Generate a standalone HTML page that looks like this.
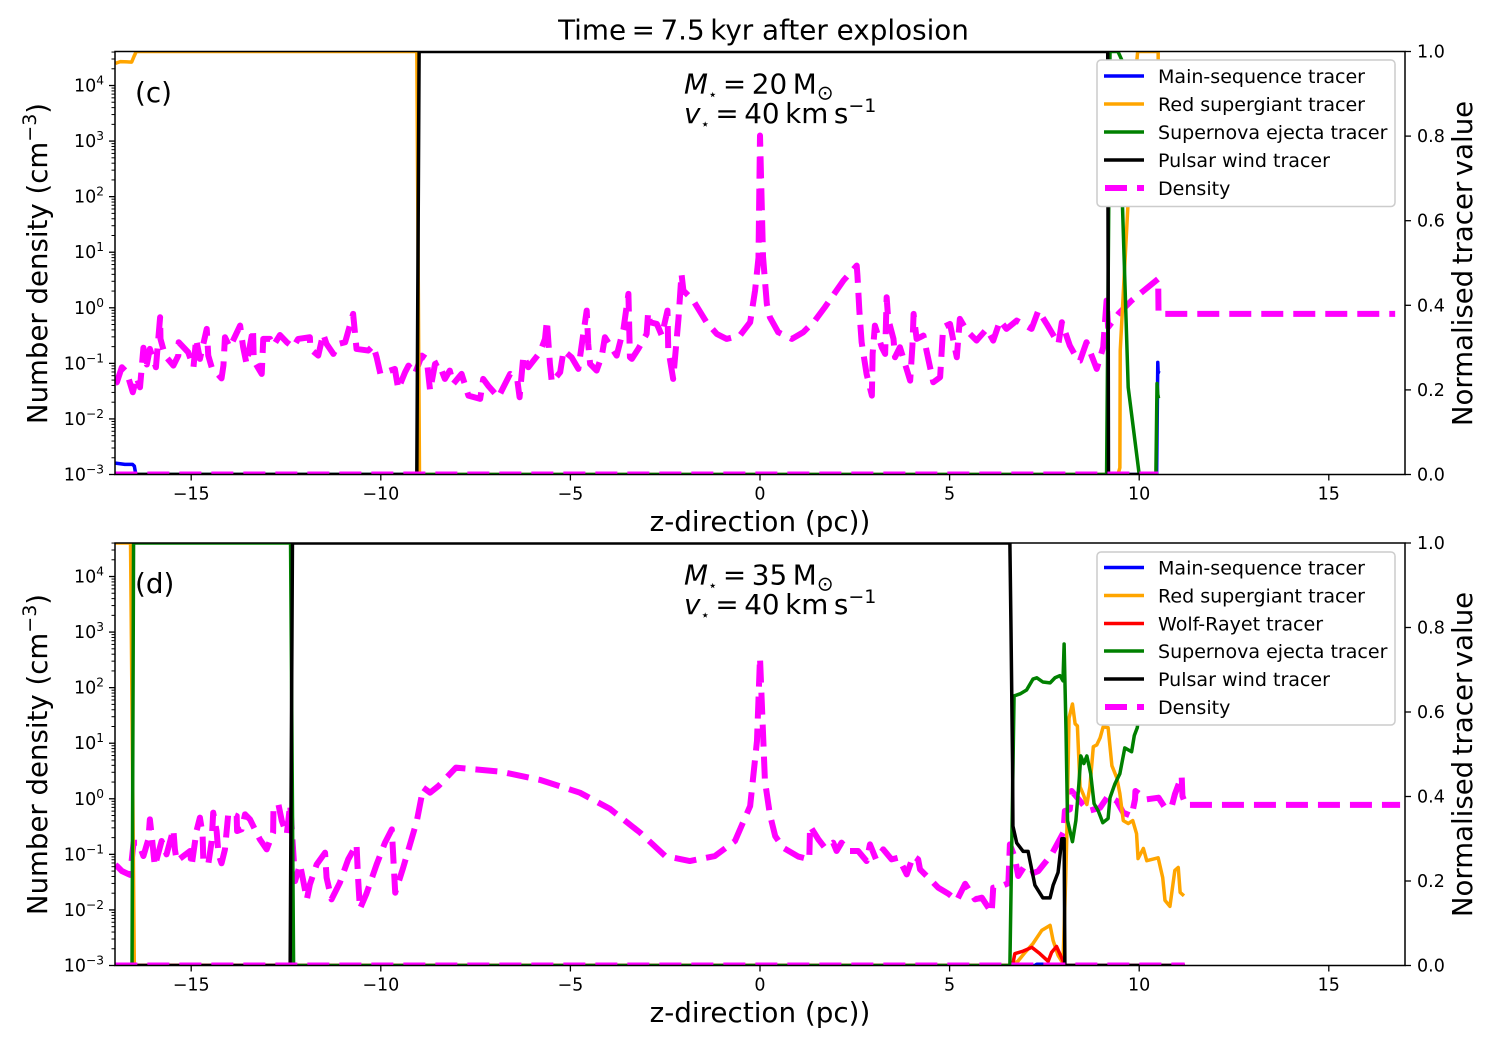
<!DOCTYPE html>
<html lang="en">
<head>
<meta charset="utf-8">
<title>Time = 7.5 kyr after explosion</title>
<style>
html,body{margin:0;padding:0;background:#fff;width:1495px;height:1046px;overflow:hidden}
svg{display:block}
text{font-family:"DejaVu Sans","Liberation Sans",sans-serif;fill:#000}
.big{font-size:27.8px}
.ylab{font-size:27.6px}
.tick{font-size:17.5px}
.leg{font-size:19.05px}
</style>
</head>
<body>
<svg id="fig" xmlns="http://www.w3.org/2000/svg" width="1495" height="1046" viewBox="0 0 1495 1046">
  <defs>
    <clipPath id="clip-c"><rect x="115" y="51.5" width="1290" height="423"/></clipPath>
    <clipPath id="clip-d"><rect x="115" y="543" width="1290" height="422.5"/></clipPath>
  </defs>
  <text class="big" x="763.5" y="39.5" text-anchor="middle">Time&#8201;=&#8201;7.5&#8201;kyr after explosion</text>

  <g id="panel-c"></g>
  <g id="panel-d"></g>

  <text class="big" x="135" y="102">(c)</text>
  <text class="big" x="684" y="93.5"><tspan font-style="italic">M</tspan><tspan font-size="15" dy="6">⋆</tspan><tspan dy="-6">&#8201;=&#8201;20&#8201;M</tspan><tspan font-size="20" dy="6">⊙</tspan></text>
  <text class="big" x="684" y="123"><tspan font-style="italic">v</tspan><tspan font-size="15" dy="6">⋆</tspan><tspan dy="-6">&#8201;=&#8201;40&#8201;km&#8201;s</tspan><tspan font-size="19" dy="-11">−1</tspan></text>
  <text class="big" x="760" y="531" text-anchor="middle">z-direction (pc))</text>
  <text class="ylab" transform="translate(47,263.5) rotate(-90)" text-anchor="middle">Number density (cm<tspan font-size="19" dy="-11">−3</tspan><tspan dy="11">)</tspan></text>
  <text class="ylab" transform="translate(1472,263.5) rotate(-90)" text-anchor="middle">Normalised&#8201;tracer&#8201;value</text>

  <text class="big" x="135" y="593">(d)</text>
  <text class="big" x="684" y="584.5"><tspan font-style="italic">M</tspan><tspan font-size="15" dy="6">⋆</tspan><tspan dy="-6">&#8201;=&#8201;35&#8201;M</tspan><tspan font-size="20" dy="6">⊙</tspan></text>
  <text class="big" x="684" y="614"><tspan font-style="italic">v</tspan><tspan font-size="15" dy="6">⋆</tspan><tspan dy="-6">&#8201;=&#8201;40&#8201;km&#8201;s</tspan><tspan font-size="19" dy="-11">−1</tspan></text>
  <text class="big" x="760" y="1022" text-anchor="middle">z-direction (pc))</text>
  <text class="ylab" transform="translate(47,754.5) rotate(-90)" text-anchor="middle">Number density (cm<tspan font-size="19" dy="-11">−3</tspan><tspan dy="11">)</tspan></text>
  <text class="ylab" transform="translate(1472,754.5) rotate(-90)" text-anchor="middle">Normalised&#8201;tracer&#8201;value</text>

  <g>
    <rect x="1097" y="60" width="298" height="146.5" rx="4" fill="#fff" stroke="#ccc" stroke-width="1.5"/>
    <g><line x1="1104" x2="1144" y1="76" y2="76" stroke="#0000ff" stroke-width="3.5"/><text class="leg" x="1158" y="83">Main-sequence tracer</text></g>
    <g><line x1="1104" x2="1144" y1="104" y2="104" stroke="#ffa500" stroke-width="3.5"/><text class="leg" x="1158" y="111">Red supergiant tracer</text></g>
    <g><line x1="1104" x2="1144" y1="132" y2="132" stroke="#008000" stroke-width="3.5"/><text class="leg" x="1158" y="139">Supernova ejecta tracer</text></g>
    <g><line x1="1104" x2="1144" y1="160" y2="160" stroke="#000" stroke-width="3.5"/><text class="leg" x="1158" y="167">Pulsar wind tracer</text></g>
    <g><line x1="1105" x2="1144" y1="188" y2="188" stroke="#ff00ff" stroke-width="6" stroke-dasharray="22 10"/><text class="leg" x="1158" y="195">Density</text></g>
  </g>

  <g>
    <rect x="1097" y="552" width="298" height="173" rx="4" fill="#fff" stroke="#ccc" stroke-width="1.5"/>
    <g><line x1="1104" x2="1144" y1="567.5" y2="567.5" stroke="#0000ff" stroke-width="3.5"/><text class="leg" x="1158" y="574.5">Main-sequence tracer</text></g>
    <g><line x1="1104" x2="1144" y1="595.5" y2="595.5" stroke="#ffa500" stroke-width="3.5"/><text class="leg" x="1158" y="602.5">Red supergiant tracer</text></g>
    <g><line x1="1104" x2="1144" y1="623.5" y2="623.5" stroke="#ff0000" stroke-width="3.5"/><text class="leg" x="1158" y="630.5">Wolf-Rayet tracer</text></g>
    <g><line x1="1104" x2="1144" y1="651" y2="651" stroke="#008000" stroke-width="3.5"/><text class="leg" x="1158" y="658">Supernova ejecta tracer</text></g>
    <g><line x1="1104" x2="1144" y1="679" y2="679" stroke="#000" stroke-width="3.5"/><text class="leg" x="1158" y="686">Pulsar wind tracer</text></g>
    <g><line x1="1105" x2="1144" y1="707" y2="707" stroke="#ff00ff" stroke-width="6" stroke-dasharray="22 10"/><text class="leg" x="1158" y="714">Density</text></g>
  </g>
</svg>
<script>
/* ---------- axis tick values ---------- */
const xTickValues = [-15, -10, -5, 0, 5, 10, 15];
const logTickExponents = [-3, -2, -1, 0, 1, 2, 3, 4];
const tracerTickValues = [0, 0.2, 0.4, 0.6, 0.8, 1.0];

/* ---------- panel (c): density, log10(n / cm^-3) vs z (pc) ---------- */
const cDensityZ = [
  -17.0,-16.96,-16.83,-16.70,-16.54,-16.44,-16.35,-16.26,-16.17,-16.09,
  -15.93,-15.82,-15.81,-15.69,-15.47,-15.34,-15.33,-15.08,-14.94,-14.87,
  -14.77,-14.59,-14.55,-14.46,-14.20,-14.15,-14.11,-13.98,-13.71,-13.63,
  -13.54,-13.37,-13.35,-13.14,-13.10,-12.92,-12.83,-12.66,-12.48,-12.31,
  -12.18,-11.87,-11.86,-11.65,-11.52,-11.43,-11.25,-11.12,-10.94,-10.73,
  -10.64,-10.33,-10.20,-10.11,-10.01,-9.63,-9.54,-9.36,-9.27,-9.10,
  -8.92,-8.79,-8.70,-8.57,-8.48,-8.31,-8.18,-8.09,-7.87,-7.69,
  -7.38,-7.30,-7.17,-6.90,-6.59,-6.40,-6.34,-6.24,-6.11,-5.80,
  -5.67,-5.62,-5.54,-5.49,-5.27,-5.18,-4.97,-4.79,-4.66,-4.57,
  -4.53,-4.48,-4.31,-4.17,-4.09,-3.78,-3.60,-3.47,-3.43,-3.38,
  -3.21,-2.99,-2.95,-2.90,-2.72,-2.59,-2.44,-2.42,-2.29,-2.15,
  -2.07,-2.02,-1.76,-1.41,-1.14,-0.88,-0.53,-0.26,-0.13,-0.04,
  0,0.08,0.18,0.26,0.48,0.84,1.14,1.45,1.71,2.20,
  2.55,2.57,2.62,2.68,2.81,2.95,2.97,3.03,3.21,3.30,
  3.34,3.38,3.52,3.56,3.69,3.96,4.02,4.05,4.13,4.31,
  4.40,4.57,4.75,4.83,5.01,5.19,5.27,5.45,5.71,5.98,
  6.15,6.33,6.50,6.77,7.16,7.34,7.56,7.87,7.96,8.17,
  8.39,8.44,8.61,8.88,9.05,9.14,9.18,9.45,9.80,10.50,
  10.51,16.75];
const cDensityLog = [
  -1.35,-1.34,-1.07,-1.16,-1.52,-1.25,-1.43,-0.72,-1.02,-0.74,
  -1.07,-0.17,-0.56,-0.86,-1.04,-0.86,-0.62,-0.80,-1.07,-0.56,
  -0.92,-0.38,-0.86,-1.07,-1.27,-1.04,-0.53,-0.71,-0.32,-0.71,
  -1.01,-0.38,-0.95,-1.19,-0.56,-0.56,-0.68,-0.49,-0.62,-0.71,
  -0.56,-0.53,-0.74,-0.86,-0.47,-0.65,-0.83,-0.65,-0.62,-0.11,
  -0.74,-0.77,-0.68,-0.89,-1.19,-1.10,-1.46,-1.16,-1.04,-1.19,
  -0.86,-0.92,-1.49,-1.01,-0.98,-1.28,-1.13,-1.37,-1.19,-1.58,
  -1.64,-1.28,-1.40,-1.61,-1.19,-1.30,-1.61,-0.86,-1.07,-0.80,
  -0.56,-0.23,-1.01,-1.34,-1.16,-0.77,-0.89,-1.10,-0.47,-0.05,
  -0.65,-1.01,-1.13,-0.86,-0.53,-0.86,-0.38,0.25,-0.89,-0.92,
  -0.74,-0.47,-0.08,-0.26,-0.29,-0.50,-0.05,-0.74,-1.28,-0.20,
  0.61,0.31,0.13,-0.26,-0.47,-0.56,-0.50,-0.26,0.31,0.90,
  3.10,0.92,0.07,-0.17,-0.44,-0.56,-0.44,-0.23,0.01,0.49,
  0.76,0.58,-0.05,-0.62,-1.19,-1.58,-0.83,-0.32,-0.71,-0.83,
  0.19,-0.20,-0.56,-0.89,-0.71,-1.31,-0.68,-0.11,-0.56,-0.50,
  -0.80,-1.34,-1.25,-0.35,-0.29,-0.89,-0.20,-0.41,-0.59,-0.38,
  -0.59,-0.23,-0.38,-0.23,-0.38,-0.05,-0.29,-0.65,-0.26,-0.68,
  -0.95,-0.95,-0.62,-1.10,-0.71,0.13,-0.35,-0.11,0.13,0.52,
  -0.11,-0.11];
const cDensityFloorZ = [-17.0, 10.5];
const cDensityFloorLog = [-3, -3];

/* ---------- panel (c): tracers, normalised value vs z ---------- */
const cBlueZ = [-17.0,-16.75,-16.55,-16.5,-16.46,10.46,10.49,10.5,10.52];
const cBlueV = [0.027,0.024,0.024,0.02,0,0,0.265,0.24,0.245];
const cOrangeZ = [-17.0,-16.87,-16.57,-16.5,-16.45,-9.05,-8.98,9.44,9.49,9.50,9.70,9.94,9.96,10.5,10.51];
const cOrangeV = [0.972,0.976,0.975,0.99,1,1,0,0,0.016,0.293,0.631,0.98,1,1,0.7];
const cGreenZ = [-17.0,9.14,9.23,9.44,9.54,9.56,9.71,10.0,10.44,10.47,10.49,10.51];
const cGreenV = [0,0,1,1,0.98,0.632,0.206,0,0,0.215,0.19,0.18];
const cBlackZ = [-17.0,-9.05,-8.99,9.17,9.19,10.5];
const cBlackV = [0,0,1,1,0,0];

/* ---------- panel (d): density ---------- */
const dDensityZ = [
  -17.0,-16.96,-16.83,-16.61,-16.52,-16.39,-16.26,-16.13,-16.09,-16.05,
  -15.96,-15.78,-15.65,-15.47,-15.43,-15.38,-15.03,-14.99,-14.86,-14.77,
  -14.70,-14.68,-14.55,-14.46,-14.42,-14.33,-14.28,-14.20,-14.11,-14.02,
  -13.80,-13.79,-13.67,-13.58,-13.45,-13.19,-13.01,-12.84,-12.83,-12.70,
  -12.61,-12.48,-12.39,-12.31,-12.26,-12.13,-11.95,-11.87,-11.69,-11.47,
  -11.43,-11.30,-11.08,-10.86,-10.64,-10.60,-10.55,-10.38,-10.11,-9.89,
  -9.71,-9.67,-9.62,-9.41,-9.05,-8.88,-8.70,-8.48,-8.02,-6.86,
  -5.80,-4.75,-3.96,-3.16,-2.50,-1.85,-1.19,-0.66,-0.26,-0.08,
  0,0.13,0.26,0.40,0.61,1.01,1.30,1.32,1.54,1.71,
  1.93,2.02,2.15,2.33,2.59,2.81,2.90,3.06,3.25,3.47,
  3.65,3.87,4.04,4.17,4.22,4.53,4.70,4.97,5.19,5.41,
  5.67,5.85,6.11,6.15,6.37,6.55,6.59,6.72,6.81,6.95,
  7.12,7.34,7.69,8.00,8.04,8.17,8.22,8.44,8.66,8.97,
  9.18,9.41,9.58,9.80,9.89,9.90,10.20,10.51,10.68,10.86,
  10.94,11.12,11.14,11.23,16.88];
const dDensityLog = [
  -1.19,-1.21,-1.30,-1.37,-0.79,-0.79,-1.03,-0.73,-0.37,-0.61,
  -1.21,-0.76,-1.00,-0.55,-0.91,-1.12,-0.94,-1.21,-0.58,-0.34,
  -0.64,-1.12,-1.18,-0.76,-0.25,-0.58,-1.00,-1.16,-0.91,-0.25,
  -0.31,-0.58,-0.55,-0.28,-0.37,-0.73,-0.91,-0.61,-0.16,-0.10,
  -0.40,-0.64,-0.10,-0.94,-1.48,-1.18,-1.81,-1.54,-1.18,-0.97,
  -1.42,-1.81,-1.51,-1.09,-0.82,-1.42,-1.98,-1.71,-1.18,-0.79,
  -0.55,-1.06,-1.69,-1.24,-0.40,0.20,0.11,0.23,0.56,0.49,
  0.34,0.11,-0.18,-0.61,-1.03,-1.12,-1.03,-0.76,-0.13,1.04,
  2.54,0.32,-0.28,-0.67,-0.88,-1.04,-1.09,-0.49,-0.73,-0.88,
  -0.79,-0.94,-0.79,-0.94,-0.94,-1.12,-0.82,-1.09,-0.91,-1.09,
  -1.06,-1.36,-1.03,-1.09,-1.27,-1.48,-1.60,-1.71,-1.83,-1.53,
  -1.81,-1.78,-2.05,-1.60,-1.57,-1.52,-0.82,-1.06,-1.39,-1.24,
  -1.36,-1.30,-1.00,-0.61,-0.22,-0.19,0.14,-0.04,-0.22,-0.16,
  0.05,-0.04,-0.25,-0.31,-0.01,0.14,-0.01,0.02,-0.16,-0.13,
  0.08,0.41,0.05,-0.11,-0.11];
const dDensityFloorZ = [-17.0, 11.2];
const dDensityFloorLog = [-3, -3];

/* ---------- panel (d): tracers ---------- */
const dBlueZ = [-17.0,7.25,7.3,7.5,7.55,11.2];
const dBlueV = [0,0,0.003,0.003,0,0];
const dOrangeZ = [
  -17.0,-16.6,-16.5,6.59,6.80,6.99,7.20,7.43,7.65,7.73,
  7.86,7.99,8.06,8.09,8.15,8.24,8.31,8.37,8.44,8.53,
  8.62,8.70,8.79,8.88,8.97,9.05,9.18,9.28,9.41,9.49,
  9.58,9.71,9.83,9.93,9.97,10.11,10.20,10.50,10.62,10.68,
  10.81,10.94,11.03,11.08,11.18];
const dOrangeV = [
  1,1,0,0,0.01,0.031,0.052,0.083,0.095,0.059,
  0.024,0.005,0.201,0.303,0.586,0.619,0.572,0.567,0.423,0.404,
  0.381,0.423,0.518,0.522,0.539,0.565,0.563,0.473,0.444,0.407,
  0.343,0.336,0.343,0.312,0.253,0.277,0.248,0.255,0.208,0.154,
  0.140,0.225,0.232,0.173,0.165];
const dRedZ = [-17.0,6.60,6.67,6.72,6.94,7.17,7.38,7.60,7.69,7.82,7.96,8.04,11.2];
const dRedV = [0,0,0.005,0.028,0.034,0.043,0.028,0.010,0.031,0.045,0.017,0,0];
const dGreenZ = [
  -17.0,-16.56,-16.52,-12.38,-12.30,6.59,6.70,6.86,7.03,7.20,
  7.30,7.46,7.65,7.78,7.91,7.99,8.02,8.07,8.11,8.24,
  8.33,8.41,8.46,8.54,8.62,8.72,8.81,8.92,9.04,9.18,
  9.23,9.36,9.49,9.62,9.80,9.87,9.95,10.02,10.28];
const dGreenV = [
  0,0,1,1,0,0,0.638,0.643,0.652,0.678,
  0.681,0.671,0.669,0.681,0.686,0.674,0.761,0.556,0.343,0.293,
  0.343,0.430,0.496,0.478,0.496,0.454,0.383,0.366,0.338,0.348,
  0.397,0.430,0.454,0.515,0.506,0.544,0.563,0.62,0.80];
const dBlackZ = [
  -17.0,-12.39,-12.33,6.59,6.62,6.66,6.67,6.77,6.94,7.07,
  7.25,7.46,7.65,7.73,7.86,7.96,8.02,8.04,11.2];
const dBlackV = [
  0,0,1,1,0.79,0.48,0.33,0.29,0.27,0.27,
  0.19,0.16,0.16,0.19,0.22,0.30,0.30,0,0];

/* ---------- axis functions ---------- */
const NS = 'http://www.w3.org/2000/svg';
const PX_PER_PC = 37.92;
const X_ZERO = 760;
const AXIS_LEFT = 115;
const AXIS_RIGHT = 1405;
const PX_PER_DECADE = 55.57;
const xScale = z => X_ZERO + z * PX_PER_PC;
const logScale = (logN, bottom) => bottom - (logN + 3) * PX_PER_DECADE;
const tracerScale = (v, top, bottom) => bottom - v * (bottom - top);

function add(tag, parent) {
  const node = document.createElementNS(NS, tag);
  parent.appendChild(node);
  return node;
}
function pathFrom(xs, ys, mapX, mapY) {
  let d = '';
  const n = Math.min(xs.length, ys.length);
  for (let i = 0; i < n; i++) {
    d += (i ? 'L' : 'M') + mapX(xs[i]).toFixed(2) + ' ' + mapY(ys[i]).toFixed(2);
  }
  return d;
}
function styleSeries(p, color, width, dashed, clipId) {
  p.setAttribute('fill', 'none');
  p.setAttribute('stroke', color);
  p.setAttribute('stroke-width', width);
  p.setAttribute('stroke-linejoin', 'round');
  p.setAttribute('clip-path', 'url(#' + clipId + ')');
  if (dashed) p.setAttribute('stroke-dasharray', '22 10');
}
function tickLine(g, x1, y1, x2, y2, w) {
  const t = add('line', g);
  t.setAttribute('x1', x1);
  t.setAttribute('y1', y1);
  t.setAttribute('x2', x2);
  t.setAttribute('y2', y2);
  t.setAttribute('stroke', '#000');
  t.setAttribute('stroke-width', w);
  return t;
}

function drawPanel(id, top, bottom, tracers, density, floor) {
  const g = document.getElementById('panel-' + id);
  const clipId = 'clip-' + id;
  const yLog = v => logScale(v, bottom);
  const yTr = v => tracerScale(v, top, bottom);

  const curve = add('path', g);
  curve.setAttribute('d', pathFrom(density.z, density.log, xScale, yLog));
  styleSeries(curve, '#ff00ff', 6, true, clipId);
  
  

  tracers.forEach(s => {
    const p = add('path', g);
    p.setAttribute('d', pathFrom(s.z, s.v, xScale, yTr));
    styleSeries(p, s.color, 3.5, false, clipId);
    
    
  });

  const fl = add('path', g);
  fl.setAttribute('d', pathFrom(floor.z, floor.log, xScale, yLog));
  styleSeries(fl, '#ff00ff', 6, true, clipId);
  
  

  const frame = add('rect', g);
  frame.setAttribute('x', AXIS_LEFT);
  frame.setAttribute('y', top);
  frame.setAttribute('width', AXIS_RIGHT - AXIS_LEFT);
  frame.setAttribute('height', bottom - top);
  frame.setAttribute('fill', 'none');
  frame.setAttribute('stroke', '#000');
  frame.setAttribute('stroke-width', 1.5);
  
  

  xTickValues.forEach(v => {
    const x = xScale(v);
    const t = tickLine(g, x, bottom, x, bottom + 6, 1.3);
    
    
    const lab = add('text', g);
    lab.setAttribute('class', 'tick');
    lab.setAttribute('x', x);
    lab.setAttribute('y', bottom + 25);
    lab.setAttribute('text-anchor', 'middle');
    lab.textContent = String(v).replace('-', '\u2212');
    
    
  });

  logTickExponents.forEach(k => {
    const y = yLog(k);
    const t = tickLine(g, AXIS_LEFT - 6, y, AXIS_LEFT, y, 1.3);
    
    
    const lab = add('text', g);
    lab.setAttribute('class', 'tick');
    lab.setAttribute('x', AXIS_LEFT - 11);
    lab.setAttribute('y', y + 6);
    lab.setAttribute('text-anchor', 'end');
    const base = add('tspan', lab);
    base.textContent = '10';
    const exp = add('tspan', lab);
    exp.setAttribute('font-size', '12.2');
    exp.setAttribute('dy', '-7');
    exp.textContent = String(k).replace('-', '\u2212');
    
    
    for (let m = 2; m <= 9; m++) {
      const ym = yLog(k + Math.log10(m));
      if (ym >= top) {
        const mt = tickLine(g, AXIS_LEFT - 3.5, ym, AXIS_LEFT, ym, 1);
        
        
      }
    }
  });

  tracerTickValues.forEach(v => {
    const y = yTr(v);
    const t = tickLine(g, AXIS_RIGHT, y, AXIS_RIGHT + 6, y, 1.3);
    
    
    const lab = add('text', g);
    lab.setAttribute('class', 'tick');
    lab.setAttribute('x', AXIS_RIGHT + 12);
    lab.setAttribute('y', y + 6);
    lab.textContent = v.toFixed(1);
    
    
  });
}

drawPanel('c', 51.5, 474.5, [
  {name: 'main-sequence-tracer', color: '#0000ff', z: cBlueZ, v: cBlueV},
  {name: 'red-supergiant-tracer', color: '#ffa500', z: cOrangeZ, v: cOrangeV},
  {name: 'supernova-ejecta-tracer', color: '#008000', z: cGreenZ, v: cGreenV},
  {name: 'pulsar-wind-tracer', color: '#000000', z: cBlackZ, v: cBlackV}
], {z: cDensityZ, log: cDensityLog}, {z: cDensityFloorZ, log: cDensityFloorLog});

drawPanel('d', 543, 965.5, [
  {name: 'main-sequence-tracer', color: '#0000ff', z: dBlueZ, v: dBlueV},
  {name: 'red-supergiant-tracer', color: '#ffa500', z: dOrangeZ, v: dOrangeV},
  {name: 'wolf-rayet-tracer', color: '#ff0000', z: dRedZ, v: dRedV},
  {name: 'supernova-ejecta-tracer', color: '#008000', z: dGreenZ, v: dGreenV},
  {name: 'pulsar-wind-tracer', color: '#000000', z: dBlackZ, v: dBlackV}
], {z: dDensityZ, log: dDensityLog}, {z: dDensityFloorZ, log: dDensityFloorLog});
</script>
</body>
</html>
